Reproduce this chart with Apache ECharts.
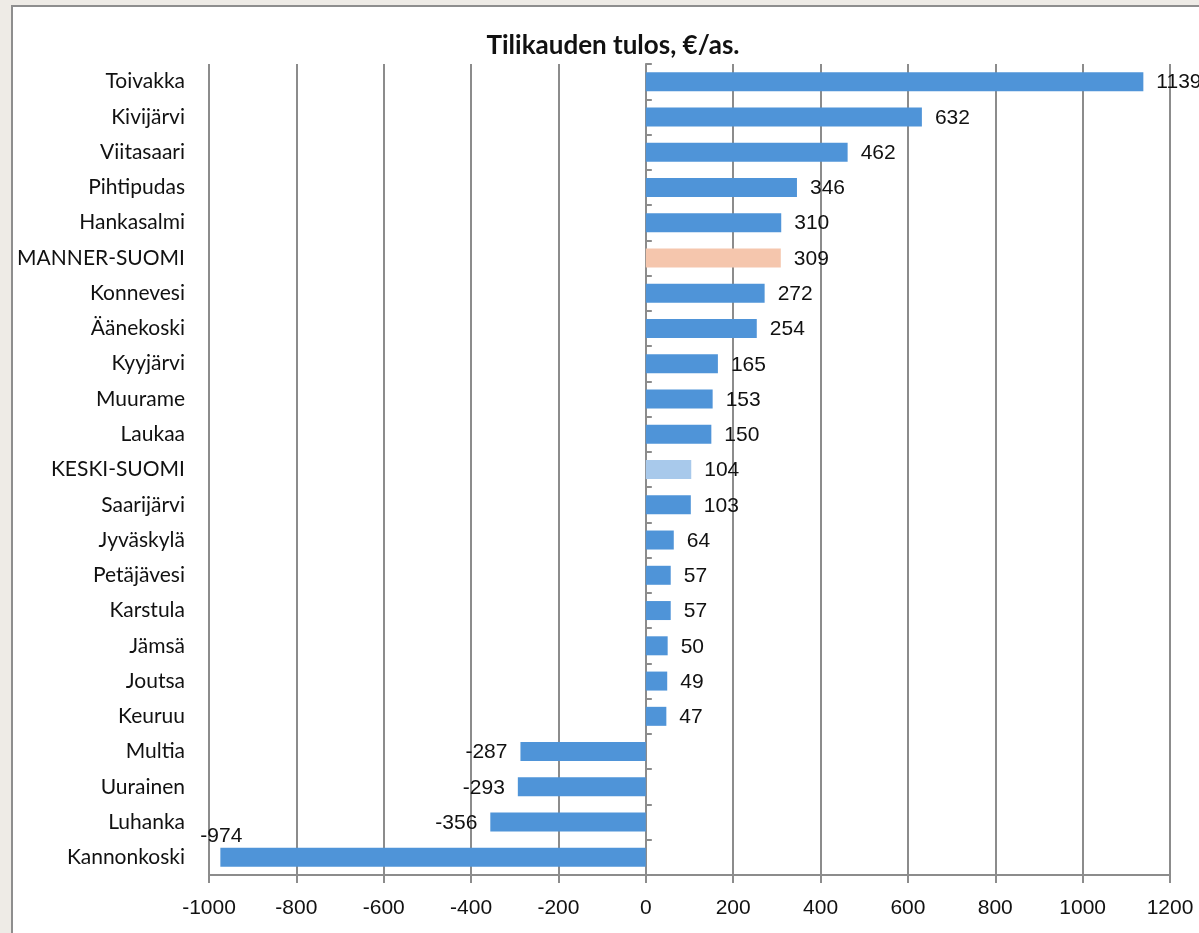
<!DOCTYPE html>
<html>
<head>
<meta charset="utf-8">
<script src="https://cdn.jsdelivr.net/npm/echarts@6/dist/echarts.min.js"></script>
<style>
  html, body { margin: 0; padding: 0; background: #eeebe6; overflow: hidden; }
  #frame { position: absolute; left: 11px; top: 5px; width: 1300px; height: 1100px; background: #fff; border: 2px solid #8e8e8e; }
  #chart { position: absolute; left: 0; top: 0; width: 1199px; height: 933px; }
</style>
</head>
<body>
<div id="frame"></div>
<div id="chart"></div>
<script>
// kunnat ylhäältä alas
var categories = ['Toivakka', 'Kivijärvi', 'Viitasaari', 'Pihtipudas', 'Hankasalmi', 'MANNER-SUOMI',
  'Konnevesi', 'Äänekoski', 'Kyyjärvi', 'Muurame', 'Laukaa', 'KESKI-SUOMI', 'Saarijärvi', 'Jyväskylä',
  'Petäjävesi', 'Karstula', 'Jämsä', 'Joutsa', 'Keuruu', 'Multia', 'Uurainen', 'Luhanka', 'Kannonkoski']
var values = [1139, 632, 462, 346, 310, 309, 272, 254, 165, 153, 150, 104, 103, 64, 57, 57, 50, 49, 47,
  -287, -293, -356, -974]
var xTicks = [-1000, -800, -600, -400, -200, 0, 200, 400, 600, 800, 1000, 1200]

var gridColor = '#8c8c8c'
var barColor = '#4f94d8'
var specialColors = { 'MANNER-SUOMI': '#f5c6ad', 'KESKI-SUOMI': '#a8c9eb' }

var chart = echarts.init(document.getElementById('chart'))

var barData = values.map(function (v, i) {
  var item = {
    value: v,
    itemStyle: { color: specialColors[categories[i]] || barColor },
    label: { position: v < 0 ? 'left' : 'right' }
  }
  // Excel nostaa viimeisen tunnisteen palkin päälle
  if (categories[i] === 'Kannonkoski') {
    item.label = { position: 'left', offset: [35, -21] }
  }
  return item
})

var option = {
  animation: false,
  title: {
    text: 'Tilikauden tulos, €/as.',
    left: 608,
    top: 28,
    textAlign: 'center',
    textStyle: { fontFamily: 'Lato', fontWeight: 'bold', fontSize: 26, color: '#111' }
  },
  grid: { left: 209, right: 29, top: 64, bottom: 58, containLabel: false },
  xAxis: {
    type: 'value',
    min: -1000,
    max: 1200,
    interval: 200,
    axisLine: { show: true, onZero: false, lineStyle: { color: gridColor, width: 2 } },
    axisTick: { show: true, length: 8, lineStyle: { color: gridColor, width: 2 } },
    axisLabel: {
      margin: 23,
      fontFamily: 'Liberation Sans', fontSize: 21, color: '#111',
      formatter: function (v) { return xTicks.indexOf(v) >= 0 ? String(v) : '' }
    },
    splitLine: { show: true, lineStyle: { color: gridColor, width: 2 } }
  },
  yAxis: [{
    type: 'category',
    data: categories,
    inverse: true,
    position: 'left',
    axisLine: { show: false, onZero: false },
    axisTick: { show: false },
    axisLabel: { margin: 24, fontFamily: 'Lato', fontSize: 21, color: '#111' }
  }, {
    type: 'category',
    data: categories,
    inverse: true,
    axisLine: { show: true, onZero: true, lineStyle: { color: gridColor, width: 2 } },
    axisTick: { show: true, inside: false, length: 6, lineStyle: { color: gridColor, width: 2 } },
    axisLabel: { show: false }
  }],
  series: [{
    type: 'bar',
    data: barData,
    barWidth: 19,
    label: {
      show: true,
      distance: 13,
      offset: [0, 1],
      fontFamily: 'Liberation Sans',
      fontSize: 21,
      color: '#111'
    }
  }]
}

chart.setOption(option)
window.addEventListener('resize', function () {
  chart.resize()
})
</script>
</body>
</html>
